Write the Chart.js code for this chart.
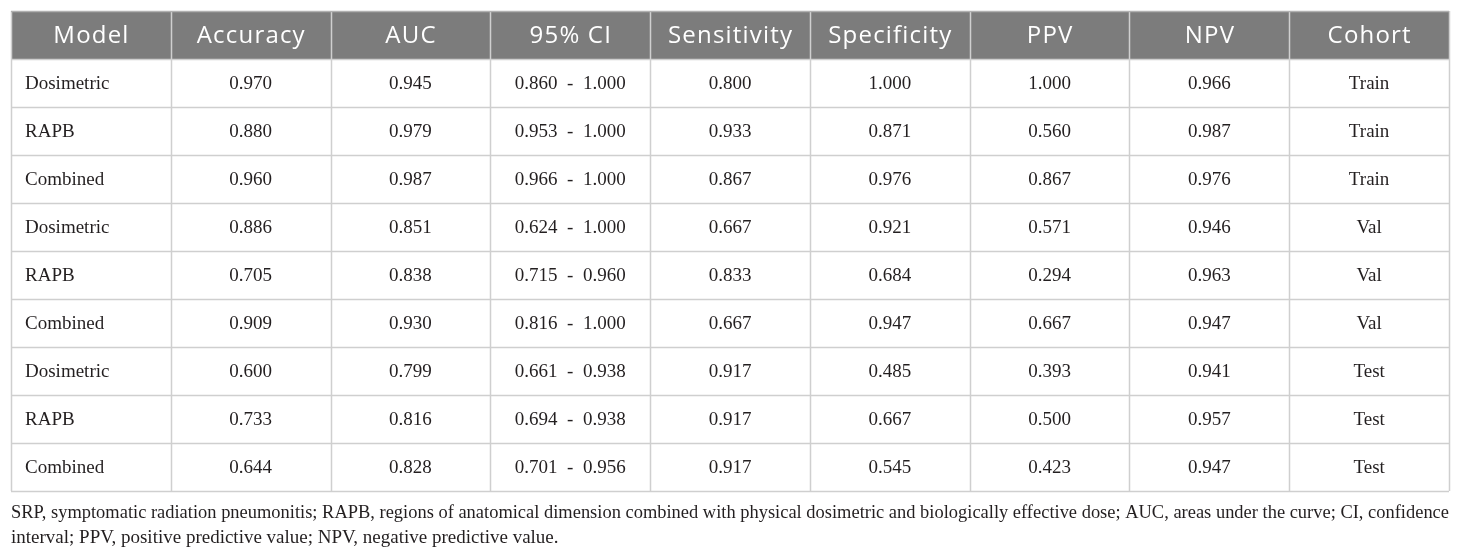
<!DOCTYPE html>
<html>
<head>
<meta charset="utf-8">
<script src="https://cdn.jsdelivr.net/npm/chart.js@4.4.1/dist/chart.umd.min.js"></script>
<style>
html,body{margin:0;padding:0;background:#fff;}
#wrap{width:1460px;height:555px;position:relative;}
</style>
</head>
<body>
<div id="wrap"><canvas id="c"></canvas></div>
<script>
const headers = ["Model","Accuracy","AUC","95% CI","Sensitivity","Specificity","PPV","NPV","Cohort"];
const models = ["Dosimetric","RAPB","Combined","Dosimetric","RAPB","Combined","Dosimetric","RAPB","Combined"];
const accuracy = [0.970,0.880,0.960,0.886,0.705,0.909,0.600,0.733,0.644];
const auc = [0.945,0.979,0.987,0.851,0.838,0.930,0.799,0.816,0.828];
const ciLow = [0.860,0.953,0.966,0.624,0.715,0.816,0.661,0.694,0.701];
const ciHigh = [1.000,1.000,1.000,1.000,0.960,1.000,0.938,0.938,0.956];
const sensitivity = [0.800,0.933,0.867,0.667,0.833,0.667,0.917,0.917,0.917];
const specificity = [1.000,0.871,0.976,0.921,0.684,0.947,0.485,0.667,0.545];
const ppv = [1.000,0.560,0.867,0.571,0.294,0.667,0.393,0.500,0.423];
const npv = [0.966,0.987,0.976,0.946,0.963,0.947,0.941,0.957,0.947];
const cohort = ["Train","Train","Train","Val","Val","Val","Test","Test","Test"];
const footnote = [
  "SRP, symptomatic radiation pneumonitis; RAPB, regions of anatomical dimension combined with physical dosimetric and biologically effective dose; AUC, areas under the curve; CI, confidence",
  "interval; PPV, positive predictive value; NPV, negative predictive value."
];

const f3 = v => v.toFixed(3);
const rows = models.map((m, i) => [
  m, f3(accuracy[i]), f3(auc[i]), f3(ciLow[i]) + "  -  " + f3(ciHigh[i]),
  f3(sensitivity[i]), f3(specificity[i]), f3(ppv[i]), f3(npv[i]), cohort[i]
]);

const tablePlugin = {
  id: 'tablePlugin',
  afterDraw(chart) {
    const ctx = chart.ctx;
    const xs = chart.scales.x, ys = chart.scales.y;
    const nCols = headers.length, nRows = rows.length + 1;
    const colL = c => xs.getPixelForValue(c), colR = c => xs.getPixelForValue(c + 1);
    const rowT = r => ys.getPixelForValue(r), rowB = r => ys.getPixelForValue(r + 1);
    ctx.save();
    // header background
    ctx.fillStyle = '#7c7c7c';
    ctx.fillRect(colL(0), rowT(0), colR(nCols - 1) - colL(0), rowB(0) - rowT(0));
    // grid lines
    ctx.strokeStyle = '#cfcfcf';
    ctx.lineWidth = 1.5;
    for (let r = 1; r <= nRows; r++) {
      const y = Math.round(rowT(r)) + 0.5;
      ctx.beginPath(); ctx.moveTo(colL(0), y); ctx.lineTo(colR(nCols - 1), y); ctx.stroke();
    }
    for (let c = 0; c <= nCols; c++) {
      const x = Math.round(colL(c)) + 0.5;
      ctx.beginPath();
      ctx.moveTo(x, rowT(0)); ctx.lineTo(x, rowT(nRows)); ctx.stroke();
    }
    ctx.strokeStyle = '#b0b0b0';
    ctx.beginPath(); ctx.moveTo(colL(0), Math.round(rowT(0)) + 0.5); ctx.lineTo(colR(nCols - 1), Math.round(rowT(0)) + 0.5); ctx.stroke();
    // header text
    ctx.fillStyle = '#ffffff';
    ctx.font = '24px "Open Sans", sans-serif';
    if ('letterSpacing' in ctx) ctx.letterSpacing = '1.2px';
    ctx.textAlign = 'center';
    ctx.textBaseline = 'middle';
    for (let c = 0; c < nCols; c++) {
      ctx.fillText(headers[c], (colL(c) + colR(c)) / 2 + 0.6, (rowT(0) + rowB(0)) / 2 + 1);
    }
    if ('letterSpacing' in ctx) ctx.letterSpacing = '0px';
    // body text
    ctx.fillStyle = '#231f20';
    ctx.font = '19px "Liberation Serif", serif';
    for (let r = 0; r < rows.length; r++) {
      const yc = (rowT(r + 1) + rowB(r + 1)) / 2 + 1.5;
      for (let c = 0; c < nCols; c++) {
        if (c === 0) {
          ctx.textAlign = 'left';
          ctx.fillText(rows[r][c], colL(c) + 14, yc);
        } else {
          ctx.textAlign = 'center';
          ctx.fillText(rows[r][c], (colL(c) + colR(c)) / 2, yc);
        }
      }
    }
    // footnote
    ctx.textAlign = 'left';
    ctx.font = '19px "Liberation Serif", serif';
    const bottom = rowT(nRows);
    const fullW = colR(nCols - 1) - colL(0);
    footnote.forEach((line, i) => {
      const y = bottom + 22 + i * 25;
      ctx.fillText(line, colL(0), y, fullW);
    });
    ctx.restore();
  }
};

new Chart(document.getElementById('c'), {
  type: 'scatter',
  data: { datasets: [] },
  options: {
    responsive: true,
    maintainAspectRatio: false,
    animation: false,
    layout: { padding: { left: 11, right: 11, top: 11, bottom: 64 } },
    plugins: { legend: { display: false }, tooltip: { enabled: false } },
    scales: {
      x: { type: 'linear', display: false, min: 0, max: headers.length },
      y: { type: 'linear', display: false, min: 0, max: models.length + 1, reverse: true }
    }
  },
  plugins: [tablePlugin]
});
</script>
</body>
</html>
